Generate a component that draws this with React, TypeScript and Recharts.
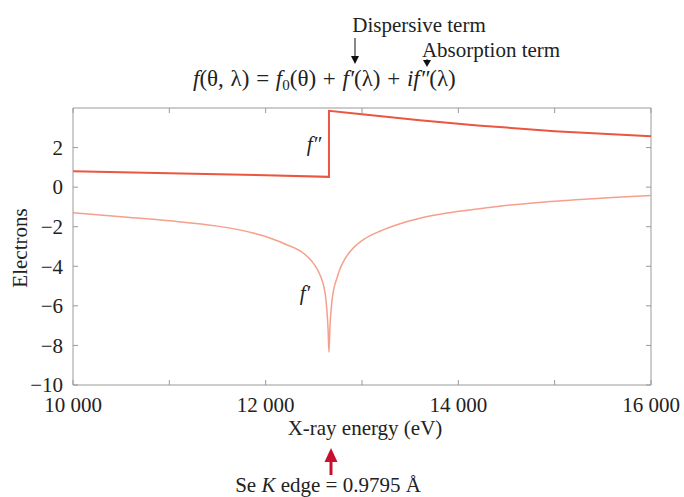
import React from 'react';
import { LineChart, Line, XAxis, YAxis, ReferenceLine } from 'recharts';

// energies in eV, values in electrons
const fppEnergy = [10000, 11000, 12000, 12657, 12657, 13000, 13600, 14200, 15000, 16000];
const fppValue = [0.8, 0.7, 0.6, 0.52, 3.86, 3.68, 3.38, 3.12, 2.83, 2.57];

const fpEnergy = [
  10000, 10500, 11000, 11500, 11870, 12050, 12220, 12390, 12480, 12530, 12570, 12600, 12620,
  12635, 12648, 12657, 12668, 12685, 12705, 12740, 12770, 12820, 12893, 13012, 13200, 13362,
  13600, 13880, 14200, 14570, 14900, 15260, 15600, 16000,
];
const fpValue = [
  -1.3, -1.5, -1.7, -1.97, -2.32, -2.58, -2.91, -3.33, -3.75, -4.1, -4.5, -4.95, -5.45,
  -6.2, -7.2, -8.35, -7.0, -5.9, -5.2, -4.6, -4.15, -3.65, -3.16, -2.66, -2.2, -1.9,
  -1.57, -1.31, -1.1, -0.89, -0.75, -0.63, -0.52, -0.42,
];

const xTicks = [10000, 11000, 12000, 13000, 14000, 15000, 16000];
const xLabels = ['10 000', '', '12 000', '', '14 000', '', '16 000'];
const yTicks = [-10, -8, -6, -4, -2, 0, 2];

const fppData = fppEnergy.map((e, i) => ({ e, v: fppValue[i] }));
const fpData = fpEnergy.map((e, i) => ({ e, v: fpValue[i] }));

const W = 684;
const H = 497;
const LEFT = 73;
const RIGHT = 651;
const TOP = 108;
const BOTTOM = 385;
const FONT = '"Liberation Serif", "Times New Roman", serif';
const AXIS = '#9a9a9a';

const XTick = (props: any) => {
  const { x, payload } = props;
  const idx = xTicks.indexOf(payload.value);
  return (
    <g>
      <line x1={x} y1={BOTTOM} x2={x} y2={BOTTOM - 5} stroke={AXIS} />
      <line x1={x} y1={TOP} x2={x} y2={TOP + 5} stroke={AXIS} />
      <text x={x} y={412} textAnchor="middle" fontFamily={FONT} fontSize={21} fill="#222">
        {xLabels[idx]}
      </text>
    </g>
  );
};

const YTick = (props: any) => {
  const { y, payload } = props;
  const label = payload.value < 0 ? '\u2212' + Math.abs(payload.value) : String(payload.value);
  return (
    <g>
      <line x1={LEFT} y1={y} x2={LEFT + 5} y2={y} stroke={AXIS} />
      <line x1={RIGHT} y1={y} x2={RIGHT - 5} y2={y} stroke={AXIS} />
      <text x={63} y={y} dy="0.35em" textAnchor="end" fontFamily={FONT} fontSize={21} fill="#222">
        {label}
      </text>
    </g>
  );
};

export default function App() {
  return (
    <div style={{ position: 'absolute', left: 0, top: 0, width: W, height: H, background: '#fff' }}>
      <LineChart
        width={W}
        height={H}
        margin={{ top: TOP, right: W - RIGHT, bottom: 82, left: 0 }}
      >
        <XAxis
          type="number"
          dataKey="e"
          domain={[10000, 16000]}
          ticks={xTicks}
          allowDataOverflow
          tick={<XTick />}
          tickLine={false}
          axisLine={{ stroke: AXIS }}
          height={30}
        />
        <YAxis
          type="number"
          domain={[-10, 4]}
          ticks={yTicks}
          allowDataOverflow
          tick={<YTick />}
          tickLine={false}
          axisLine={{ stroke: AXIS }}
          width={LEFT}
        />
        <ReferenceLine y={4} stroke={AXIS} />
        <ReferenceLine x={16000} stroke={AXIS} />
        <Line
          data={fpData}
          dataKey="v"
          type="monotone"
          stroke="#f4a08c"
          strokeWidth={1.5}
          dot={false}
          isAnimationActive={false}
        />
        <Line
          data={fppData}
          dataKey="v"
          type="linear"
          stroke="#ea5640"
          strokeWidth={2}
          dot={false}
          isAnimationActive={false}
        />
      </LineChart>

      <svg width={W} height={H} style={{ position: 'absolute', left: 0, top: 0, pointerEvents: 'none' }}>
        <g fontFamily={FONT} fill="#222" fontSize={21}>
          <text x={419} y={32} textAnchor="middle">Dispersive term</text>
          <text x={491} y={57} textAnchor="middle">Absorption term</text>
          <text x={193} y={86} fontSize={23} wordSpacing={1}>
            <tspan fontStyle="italic">f</tspan>(θ, λ) = <tspan fontStyle="italic">f</tspan>
            <tspan fontSize={15} dy={4}>0</tspan>
            <tspan dy={-4}>(θ) + </tspan>
            <tspan fontStyle="italic">f′</tspan>(λ) + <tspan fontStyle="italic">if″</tspan>(λ)
          </text>
          <text x={314} y={151} textAnchor="middle" fontStyle="italic">f″</text>
          <text x={305} y={300} textAnchor="middle" fontStyle="italic">f′</text>
          <text x={365} y={435} textAnchor="middle">X-ray energy (eV)</text>
          <text transform="translate(27,248) rotate(-90)" textAnchor="middle">Electrons</text>
          <text x={328} y={492} textAnchor="middle">
            Se <tspan fontStyle="italic">K</tspan> edge = 0.9795 Å
          </text>
        </g>
        <line x1={355} y1={38} x2={355} y2={56} stroke="#111" strokeWidth={1} />
        <path d="M351,56 L359,56 L355,64 z" fill="#111" />
        <line x1={427} y1={59} x2={427} y2={61} stroke="#111" strokeWidth={1} />
        <path d="M423,60 L431,60 L427,67 z" fill="#111" />
        <line x1={331} y1={460} x2={331} y2={475} stroke="#c8102e" strokeWidth={3} />
        <path d="M324.5,462 L337.5,462 L331,448 z" fill="#c8102e" />
      </svg>
    </div>
  );
}
